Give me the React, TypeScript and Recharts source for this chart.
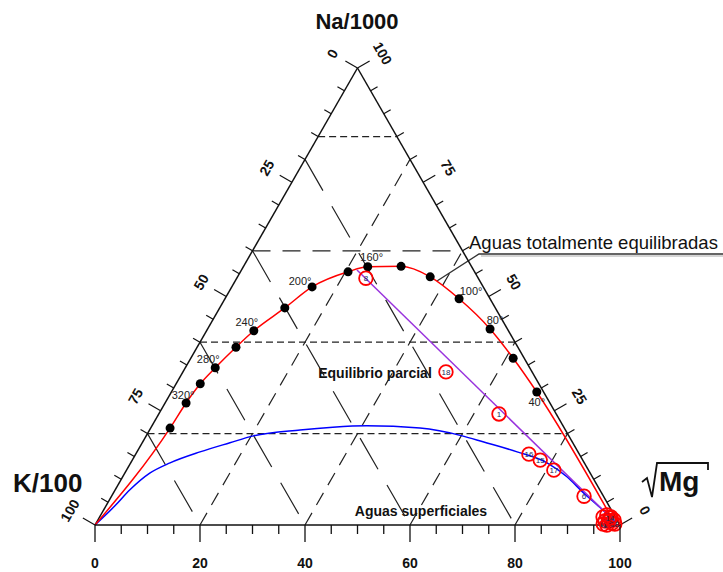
import {
  ComposedChart,
  XAxis,
  YAxis,
  Line,
  Scatter,
  ReferenceLine,
  Customized,
} from 'recharts';

const FONT = '"Liberation Sans", Arial, Helvetica, sans-serif';

// Na–K–√Mg ternary (Giggenbach). All shares in % of Na/1000 + K/100 + √Mg.

// full equilibrium line, one mark every 20 °C
const eqTemps = [340, 320, 300, 280, 260, 240, 220, 200, 180, 160, 140, 120, 100, 80, 60, 40];
const eqNa = [21.2, 26.7, 30.9, 34.4, 38.9, 42.5, 47.5, 52.1, 55.4, 56.5, 56.6, 54.3, 49.5, 42.9, 36.5, 29.1];
const eqMg = [3.7, 4.0, 4.6, 5.7, 7.4, 9.0, 12.4, 15.3, 20.5, 23.7, 30.0, 36.7, 44.6, 53.8, 61.4, 69.6];
const eqStartNa = 0;
const eqStartMg = 0;
const eqEndNa = 0.6;
const eqEndMg = 98.6;

// boundary of immature (surface) waters
const surfNa = [0, 4.2, 7.7, 11.4, 13.6, 16.0, 18.0, 19.5, 20.8, 21.4, 21.7, 21.2, 19.5, 18.2, 16.0, 13.6, 10.5, 7.2, 3.9, 0.7];
const surfMg = [0, 1.7, 2.8, 4.8, 7.5, 12.0, 16.7, 20.4, 28.65, 34.6, 40.9, 51.3, 60.2, 64.8, 72.4, 79.3, 84.7, 89.3, 94.2, 98.7];

// mixing line towards the Mg corner
const mixNa = [55.8, 0.7];
const mixMg = [22.0, 98.7];

// samples
const sampleIds = ['8', '18', '1', '16', '15', '17', '6', '2', '3', '4', '5', '7', '9', '10', '11', '12', '13', '14'];
const sampleNa = [54.0, 33.5, 24.3, 15.5, 14.2, 12.0, 6.3, 1.75, 2.19, 1.75, 1.09, 0.88, 0.88, 0.44, 0.22, 0.0, 0.22, 1.53];
const sampleMg = [24.6, 50.1, 64.8, 74.9, 77.7, 81.4, 90.0, 95.9, 96.4, 97.4, 98.3, 96.7, 97.5, 98.3, 96.7, 97.5, 98.9, 97.3];

// axes and grid
const baseTicks = [0, 5, 10, 15, 20, 25, 30, 35, 40, 45, 50, 55, 60, 65, 70, 75, 80, 85, 90, 95, 100];
const edgeTicks = [0, 5, 10, 15, 20, 25, 30, 35, 40, 45, 50, 55, 60, 65, 70, 75, 80, 85, 90, 95, 100];
const naGrid = [20, 40, 60, 85];
const kGrid = [20, 40, 60, 80];
const mgGrid = [20, 40, 60, 80];

// ternary -> plane: x runs K→Mg along the base, y is the Na share (apex = 100)
const toXY = (na: number, mg: number) => ({ x: mg + na / 2, y: na });

const eqCurve = [
  toXY(eqStartNa, eqStartMg),
  ...eqNa.map((na, i) => toXY(na, eqMg[i])),
  toXY(eqEndNa, eqEndMg),
];
const eqDots = eqTemps.map((t, i) => ({ ...toXY(eqNa[i], eqMg[i]), t }));
const surfCurve = surfNa.map((na, i) => toXY(na, surfMg[i]));
const mixLine = mixNa.map((na, i) => toXY(na, mixMg[i]));
const samples = sampleIds.map((id, i) => ({ ...toXY(sampleNa[i], sampleMg[i]), id }));
const leftTickData = edgeTicks.map((k) => ({ ...toXY(100 - k, 0), v: k }));
const rightTickData = edgeTicks.map((na) => ({ ...toXY(na, 100 - na), v: na }));

const LABELLED = new Set([320, 280, 240, 200, 160, 100, 80, 40]);
const TEMP_OFFSET: Record<number, [number, number]> = {
  320: [-3, -8],
  280: [-7, -9],
  240: [-7, -9],
  200: [-12, -6],
  160: [4, -10],
  100: [12, -8],
  80: [5, -9],
  40: [0, 10],
};

const BottomTick = (props: any) => {
  const { x, y, payload } = props;
  const v = payload.value;
  const major = v % 20 === 0;
  return (
    <g>
      <line x1={x} y1={y} x2={x} y2={y + (major ? 17 : 9)} stroke="#111" strokeWidth={1.3} />
      {major && (
        <text
          x={x}
          y={y + 38}
          textAnchor="middle"
          dominantBaseline="central"
          fontFamily={FONT}
          fontSize={14}
          fontWeight="bold"
          fill="#111"
        >
          {v}
        </text>
      )}
    </g>
  );
};

// side -1 = left (K) edge, 1 = right (Na) edge
const edgeTick = (side: number) => (props: any) => {
  const { cx, cy, payload } = props;
  const major = payload.v % 25 === 0;
  const len = major ? 14 : 8;
  const dx = side * 0.866;
  const dy = -0.5;
  const lx = cx + dx * 29;
  const ly = cy + dy * 29;
  return (
    <g>
      <line x1={cx} y1={cy} x2={cx + dx * len} y2={cy + dy * len} stroke="#111" strokeWidth={1.2} />
      {major && (
        <text
          x={lx}
          y={ly}
          transform={`rotate(${side * 60} ${lx} ${ly})`}
          textAnchor="middle"
          dominantBaseline="central"
          fontFamily={FONT}
          fontSize={14}
          fontWeight="bold"
          fill="#111"
        >
          {payload.v}
        </text>
      )}
    </g>
  );
};

const TempDot = (props: any) => {
  const { cx, cy, payload } = props;
  const off = TEMP_OFFSET[payload.t];
  return (
    <g>
      <circle cx={cx} cy={cy} r={4.5} fill="#000" />
      {LABELLED.has(payload.t) && off && (
        <text
          x={cx + off[0]}
          y={cy + off[1]}
          textAnchor="middle"
          dominantBaseline="central"
          fontFamily={FONT}
          fontSize={11}
          fill="#222"
        >
          {payload.t}°
        </text>
      )}
    </g>
  );
};

const SampleMark = (props: any) => {
  const { cx, cy, payload } = props;
  return (
    <g>
      <circle cx={cx} cy={cy} r={6.8} fill="none" stroke="#ff0000" strokeWidth={1.8} />
      <text
        x={cx}
        y={cy + 0.5}
        textAnchor="middle"
        dominantBaseline="central"
        fontFamily={FONT}
        fontSize={8}
        fill="#1b2a55"
      >
        {payload.id}
      </text>
    </g>
  );
};

const Annotations = () => (
  <g fontFamily={FONT} fill="#111">
    <text x={357} y={29} textAnchor="middle" fontSize={22} fontWeight="bold">
      Na/1000
    </text>
    <text x={13} y={492} fontSize={26} fontWeight="bold">
      K/100
    </text>
    <path
      d="M642 482 L647 478 L652 497 L657 463 L708 463 L708 470"
      fill="none"
      stroke="#111"
      strokeWidth={1.8}
    />
    <text x={659} y={491} fontSize={28} fontWeight="bold">
      Mg
    </text>
    <text x={469} y={249} fontSize={18.5}>
      Aguas totalmente equilibradas
    </text>
    <polyline points="437,281 479,254 723,254" fill="none" stroke="#333" strokeWidth={1.4} />
    <line x1={481} y1={256} x2={723} y2={256} stroke="#aaa" strokeWidth={1} />
    <text x={375} y={378} textAnchor="middle" fontSize={14} fontWeight="bold">
      Equilibrio parcial
    </text>
    <text x={421} y={516} textAnchor="middle" fontSize={14} fontWeight="bold">
      Aguas superficiales
    </text>
  </g>
);

const seg = (a: { x: number; y: number }, b: { x: number; y: number }) => [a, b] as any;

export default function App() {
  return (
    <div
      style={{
        position: 'absolute',
        left: 0,
        top: 0,
        width: 723,
        height: 572,
        background: '#fff',
        fontFamily: FONT,
      }}
    >
      <ComposedChart width={723} height={572} margin={{ top: 68, right: 103, bottom: 17, left: 95 }}>
        <XAxis
          type="number"
          dataKey="x"
          domain={[0, 100]}
          ticks={baseTicks}
          interval={0}
          tickLine={false}
          tickSize={0}
          tickMargin={0}
          tick={<BottomTick />}
          axisLine={{ stroke: '#111', strokeWidth: 1.5 }}
          height={30}
        />
        <YAxis type="number" dataKey="y" domain={[0, 100]} hide />

        {/* constant Na */}
        {naGrid.map((na) => (
          <ReferenceLine
            key={`na-${na}`}
            segment={seg(toXY(na, 0), toXY(na, 100 - na))}
            stroke="#222"
            strokeWidth={1.2}
            strokeDasharray={na === 60 ? '18 12' : '7 4'}
            ifOverflow="visible"
          />
        ))}
        {/* constant K */}
        {kGrid.map((k) => (
          <ReferenceLine
            key={`k-${k}`}
            segment={seg(toXY(100 - k, 0), toXY(0, 100 - k))}
            stroke="#222"
            strokeWidth={1.2}
            strokeDasharray="36 18"
            ifOverflow="visible"
          />
        ))}
        {/* constant √Mg */}
        {mgGrid.map((mg) => (
          <ReferenceLine
            key={`mg-${mg}`}
            segment={seg(toXY(0, mg), toXY(100 - mg, mg))}
            stroke="#222"
            strokeWidth={1.2}
            strokeDasharray="14 9"
            ifOverflow="visible"
          />
        ))}
        {/* triangle sides */}
        <ReferenceLine segment={seg(toXY(0, 0), toXY(100, 0))} stroke="#111" strokeWidth={1.5} ifOverflow="visible" />
        <ReferenceLine segment={seg(toXY(0, 100), toXY(100, 0))} stroke="#111" strokeWidth={1.5} ifOverflow="visible" />

        <Line
          data={surfCurve}
          dataKey="y"
          type="monotone"
          stroke="#0000ff"
          strokeWidth={1.5}
          dot={false}
          activeDot={false}
          isAnimationActive={false}
        />
        <Line
          data={eqCurve}
          dataKey="y"
          type="monotone"
          stroke="#ff0000"
          strokeWidth={1.5}
          dot={false}
          activeDot={false}
          isAnimationActive={false}
        />
        <Line
          data={mixLine}
          dataKey="y"
          type="linear"
          stroke="#9933dd"
          strokeWidth={1.5}
          dot={false}
          activeDot={false}
          isAnimationActive={false}
        />

        <Scatter data={leftTickData} shape={edgeTick(-1)} isAnimationActive={false} />
        <Scatter data={rightTickData} shape={edgeTick(1)} isAnimationActive={false} />
        <Scatter data={eqDots} shape={<TempDot />} isAnimationActive={false} />
        <Scatter data={samples} shape={<SampleMark />} isAnimationActive={false} />

        <Customized component={<Annotations />} />
      </ComposedChart>
    </div>
  );
}
